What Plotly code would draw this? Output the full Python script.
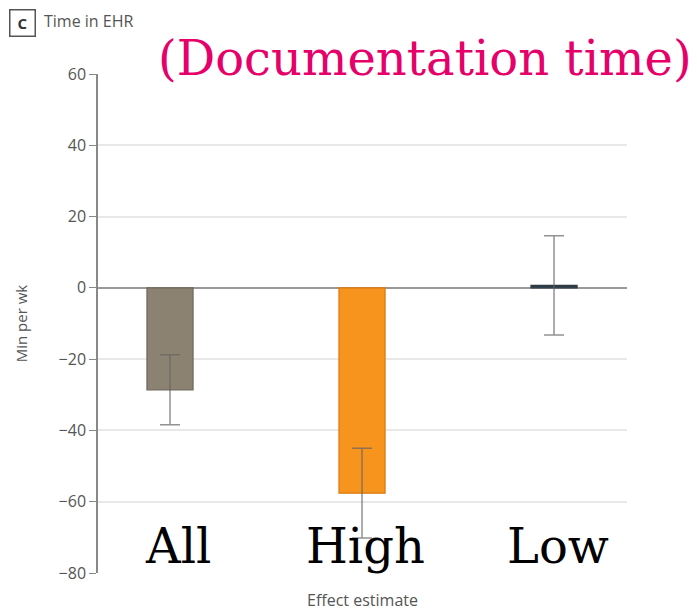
import plotly.graph_objects as go

categories = ["All", "High", "Low"]
values = [-28.6, -57.6, 0.7]
err = [9.8, 12.6, 13.9]
bar_colors = ["#8C8271", "#F7941D", "#2E3B45"]
line_colors = ["#6E665A", "#D97A10", "#2E3B45"]
yticks = [60, 40, 20, 0, -20, -40, -60, -80]
label_offsets = [0.04, 0.02, 0.02]

xs = list(range(len(categories)))
serif = "DejaVu Serif, Liberation Serif, serif"
sans = "Open Sans, sans-serif"

fig = go.Figure()
fig.add_trace(go.Bar(
    x=xs, y=values, width=0.24,
    marker=dict(color=bar_colors, line=dict(color=line_colors, width=1.2)),
    error_y=dict(type="data", array=err, visible=True, color="rgba(100,100,100,0.7)", thickness=1.5, width=10),
    showlegend=False,
))

for x, c, o in zip(xs, categories, label_offsets):
    fig.add_annotation(x=x + o, y=-72.5, text=c, showarrow=False, xref="x", yref="y",
                       font=dict(family=serif, size=48, color="#000000"))

fig.add_annotation(x=0, y=1, xref="paper", yref="paper", xanchor="left", yanchor="middle",
                   text="(Documentation time)", showarrow=False,
                   xshift=58, yshift=16,
                   font=dict(family=serif, size=48, color="#E6006A"))

fig.add_annotation(x=0, y=1, xref="paper", yref="paper", xanchor="left", yanchor="top",
                   text="<b>C</b>", showarrow=False, xshift=-89, yshift=65,
                   font=dict(family=sans, size=15, color="#333333"),
                   bordercolor="#555555", borderwidth=1.5, borderpad=2, width=20, height=21)
fig.add_annotation(x=0, y=1, xref="paper", yref="paper", xanchor="left", yanchor="top",
                   text="Time in EHR", showarrow=False, xshift=-56, yshift=66,
                   font=dict(family=sans, size=16, color="#555555"))

fig.update_layout(
    width=689, height=605,
    margin=dict(l=90, r=70, t=66, b=40, autoexpand=False),
    plot_bgcolor="white", paper_bgcolor="white",
    font=dict(family=sans, color="#555555"),
    xaxis=dict(range=[-0.375, 2.38], showticklabels=False, showgrid=False, zeroline=False,
               showline=False, ticks="", automargin=False,
               title=dict(text="Effect estimate", font=dict(size=16, color="#555555"), standoff=21)),
    yaxis=dict(range=[-80, 60], tickvals=yticks, ticks="outside", ticklen=7, tickcolor="#888888",
               showline=True, linecolor="#888888", linewidth=1.5, automargin=False,
               gridcolor="#E8E8E8", gridwidth=1.5,
               zeroline=True, zerolinecolor="#999999", zerolinewidth=1.5,
               tickfont=dict(size=16, color="#555555"),
               title=dict(text="Min per wk", font=dict(size=15, color="#555555"), standoff=27)),
)

fig.write_html("out.html")
